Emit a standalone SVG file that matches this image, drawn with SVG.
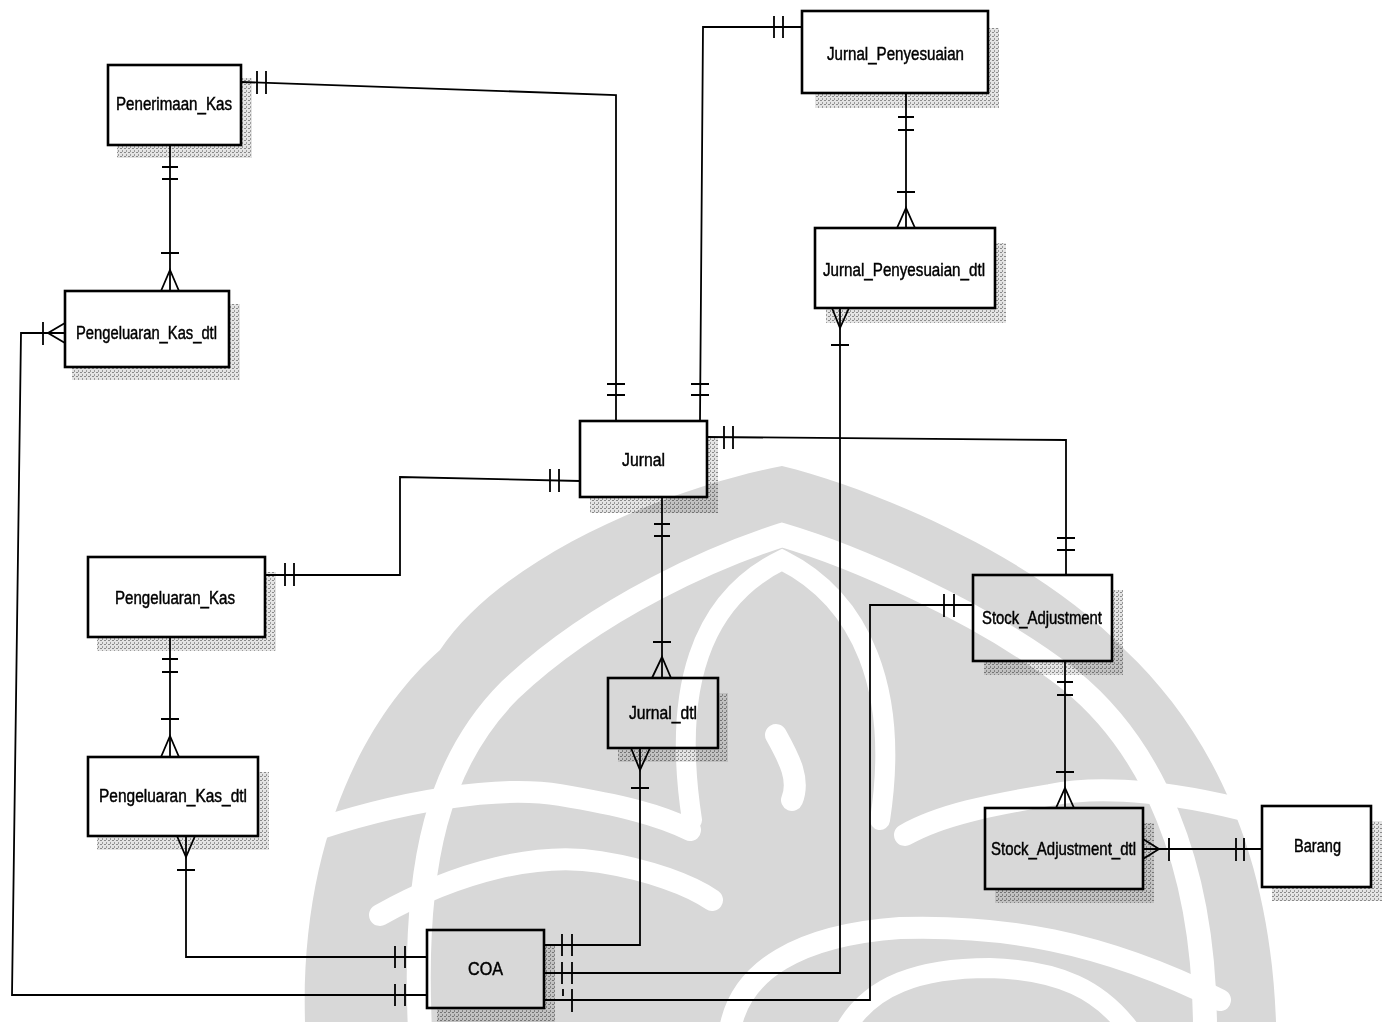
<svg xmlns="http://www.w3.org/2000/svg" width="1388" height="1022" viewBox="0 0 1388 1022">
<defs>
<pattern id="hatch" width="4" height="4" patternUnits="userSpaceOnUse">
<rect width="4" height="4" fill="#e4e4e4"/>
<rect x="0" y="0" width="2" height="1" fill="#8a8a8a"/>
<rect x="2" y="2" width="1" height="2" fill="#9a9a9a"/>
</pattern>
<style>
.box{fill:#fff;stroke:#000;stroke-width:2.6}
.sh{fill:url(#hatch)}
.ln{fill:none;stroke:#000;stroke-width:1.8;stroke-linejoin:miter}
.tk{fill:none;stroke:#000;stroke-width:1.8}
.cf{fill:none;stroke:#000;stroke-width:1.8;stroke-linejoin:miter}
.lbl{font-family:"Liberation Sans",Arial,sans-serif;font-size:18px;fill:#000;stroke:#000;stroke-width:0.45}
.wb{fill:none;stroke:#fff;stroke-linecap:round}
</style>
</defs>
<rect width="1388" height="1022" fill="#fff"/>

<g id="penerimaan_kas">
<path class="sh" d="M241,78 H252 V158 H117 V145 H241 Z"/>
<rect class="box" x="108" y="65" width="133" height="80"/>
<text class="lbl" x="116" y="110" textLength="116" lengthAdjust="spacingAndGlyphs">Penerimaan_Kas</text>
</g>
<g id="pengeluaran_kas_dtl_top">
<path class="sh" d="M229,304 H240 V380 H72 V367 H229 Z"/>
<rect class="box" x="65" y="291" width="164" height="76"/>
<text class="lbl" x="76" y="339" textLength="141" lengthAdjust="spacingAndGlyphs">Pengeluaran_Kas_dtl</text>
</g>
<g id="jurnal_penyesuaian">
<path class="sh" d="M988,28 H999 V108 H815 V93 H988 Z"/>
<rect class="box" x="802" y="11" width="186" height="82"/>
<text class="lbl" x="827" y="60" textLength="137" lengthAdjust="spacingAndGlyphs">Jurnal_Penyesuaian</text>
</g>
<g id="jurnal_penyesuaian_dtl">
<path class="sh" d="M995,243 H1006 V323 H826 V308 H995 Z"/>
<rect class="box" x="815" y="228" width="180" height="80"/>
<text class="lbl" x="823" y="276" textLength="162" lengthAdjust="spacingAndGlyphs">Jurnal_Penyesuaian_dtl</text>
</g>
<g id="jurnal">
<path class="sh" d="M707,437 H718 V513 H590 V497 H707 Z"/>
<rect class="box" x="580" y="421" width="127" height="76"/>
<text class="lbl" x="622" y="466" textLength="43" lengthAdjust="spacingAndGlyphs">Jurnal</text>
</g>
<g id="jurnal_dtl">
<path class="sh" d="M718,693 H728 V762 H618 V748 H718 Z"/>
<rect class="box" x="608" y="678" width="110" height="70"/>
<text class="lbl" x="629" y="719" textLength="68" lengthAdjust="spacingAndGlyphs">Jurnal_dtl</text>
</g>
<g id="pengeluaran_kas">
<path class="sh" d="M265,572 H276 V651 H97 V637 H265 Z"/>
<rect class="box" x="88" y="557" width="177" height="80"/>
<text class="lbl" x="115" y="604" textLength="120" lengthAdjust="spacingAndGlyphs">Pengeluaran_Kas</text>
</g>
<g id="pengeluaran_kas_dtl">
<path class="sh" d="M258,772 H269 V850 H97 V836 H258 Z"/>
<rect class="box" x="88" y="757" width="170" height="79"/>
<text class="lbl" x="99" y="802" textLength="148" lengthAdjust="spacingAndGlyphs">Pengeluaran_Kas_dtl</text>
</g>
<g id="coa">
<path class="sh" d="M544,945 H555 V1022 H437 V1008 H544 Z"/>
<rect class="box" x="427" y="930" width="117" height="78"/>
<text class="lbl" x="468" y="975" textLength="35" lengthAdjust="spacingAndGlyphs">COA</text>
</g>
<g id="stock_adjustment">
<path class="sh" d="M1112,590 H1123 V675 H984 V661 H1112 Z"/>
<rect class="box" x="973" y="575" width="139" height="86"/>
<text class="lbl" x="982" y="624" textLength="120" lengthAdjust="spacingAndGlyphs">Stock_Adjustment</text>
</g>
<g id="stock_adjustment_dtl">
<path class="sh" d="M1143,823 H1154 V903 H995 V889 H1143 Z"/>
<rect class="box" x="985" y="808" width="158" height="81"/>
<text class="lbl" x="991" y="855" textLength="145" lengthAdjust="spacingAndGlyphs">Stock_Adjustment_dtl</text>
</g>
<g id="barang">
<path class="sh" d="M1371,821 H1382 V901 H1272 V887 H1371 Z"/>
<rect class="box" x="1262" y="806" width="109" height="81"/>
<text class="lbl" x="1294" y="852" textLength="47" lengthAdjust="spacingAndGlyphs">Barang</text>
</g>

<g id="connectors">
<!-- Penerimaan_Kas - Jurnal -->
<path class="ln" d="M241,82 L616,95 L616,421"/>
<path class="tk" d="M257,71 V94 M266,71 V94 M607,384 H625 M607,395 H625"/>
<!-- Penerimaan_Kas - Pengeluaran_Kas_dtl (top) -->
<path class="ln" d="M170,145 V291"/>
<path class="tk" d="M162,167 H178 M162,179 H178 M161,253 H179"/>
<path class="cf" d="M161,291 L170,270 L179,291"/>
<!-- Pengeluaran_Kas_dtl (top) - COA -->
<path class="ln" d="M65,333 H21 L12,995 H427"/>
<path class="cf" d="M65,323 L48,333 L65,343"/>
<path class="tk" d="M43,322 V345 M395,984 V1006 M405,984 V1006"/>
<!-- Jurnal - Jurnal_Penyesuaian -->
<path class="ln" d="M700,421 L703,27 H802"/>
<path class="tk" d="M691,384 H709 M691,395 H709 M774,16 V38 M783,16 V38"/>
<!-- Jurnal_Penyesuaian - Jurnal_Penyesuaian_dtl -->
<path class="ln" d="M906,93 V228"/>
<path class="tk" d="M898,117 H914 M898,130 H914 M897,192 H915"/>
<path class="cf" d="M897,228 L906,208 L915,228"/>
<!-- Jurnal_Penyesuaian_dtl - COA -->
<path class="ln" d="M840,308 V973 H544"/>
<path class="cf" d="M832,308 L840,328 L849,308"/>
<path class="tk" d="M831,345 H849 M562,962 V984 M572,962 V984"/>
<!-- Pengeluaran_Kas - Jurnal -->
<path class="ln" d="M265,575 H400 V477 L580,481"/>
<path class="tk" d="M285,563 V586 M294,563 V586 M550,469 V492 M559,469 V492"/>
<!-- Jurnal - Stock_Adjustment -->
<path class="ln" d="M707,437 L1066,440 V575"/>
<path class="tk" d="M724,426 V449 M733,426 V449 M1057,538 H1075 M1057,550 H1075"/>
<!-- Jurnal - Jurnal_dtl -->
<path class="ln" d="M662,497 V678"/>
<path class="tk" d="M654,524 H670 M654,536 H670 M653,642 H671"/>
<path class="cf" d="M652,678 L662,657 L671,678"/>
<!-- Jurnal_dtl - COA -->
<path class="ln" d="M640,748 V945 H544"/>
<path class="cf" d="M631,748 L640,770 L650,748"/>
<path class="tk" d="M631,788 H649 M562,934 V956 M572,934 V956"/>
<!-- Pengeluaran_Kas - Pengeluaran_Kas_dtl -->
<path class="ln" d="M170,637 V757"/>
<path class="tk" d="M162,659 H178 M162,672 H178 M161,719 H179"/>
<path class="cf" d="M161,757 L170,736 L179,757"/>
<!-- Pengeluaran_Kas_dtl - COA -->
<path class="ln" d="M186,836 V957 H427"/>
<path class="cf" d="M177,836 L186,857 L195,836"/>
<path class="tk" d="M177,870 H195 M395,946 V968 M405,946 V968"/>
<!-- Stock_Adjustment - COA -->
<path class="ln" d="M973,605 H870 V1000 H544"/>
<path class="tk" d="M944,594 V617 M954,594 V617 M563,989 V996 M572,989 V1012"/>
<!-- Stock_Adjustment - Stock_Adjustment_dtl -->
<path class="ln" d="M1065,661 V808"/>
<path class="tk" d="M1057,682 H1073 M1057,695 H1073 M1056,772 H1074"/>
<path class="cf" d="M1056,808 L1065,788 L1074,808"/>
<!-- Stock_Adjustment_dtl - Barang -->
<path class="ln" d="M1143,849 H1262"/>
<path class="cf" d="M1143,839 L1159,849 L1143,859"/>
<path class="tk" d="M1169,838 V861 M1236,838 V861 M1244,838 V861"/>
</g>

<g id="watermark" style="mix-blend-mode:multiply">
<path fill="#d8d8d8" d="M305,1022 C300,850 360,720 440,650 C500,560 660,490 782,466 C880,490 1040,560 1125,650 C1210,730 1270,850 1276,1022 Z"/>
<path class="wb" stroke-width="24" d="M420,1030 C412,860 440,760 510,690 C600,605 720,555 782,535 C850,555 980,610 1070,680 C1150,745 1205,860 1205,1030"/>
<path class="wb" stroke-width="20" d="M692,820 C672,690 700,600 782,560 C862,600 900,690 880,820"/>
<path class="wb" stroke-width="22" d="M776,735 C790,760 800,780 792,800"/>
<path class="wb" stroke-width="22" d="M300,835 C400,800 500,785 560,795 C620,805 660,815 690,830"/>
<path class="wb" stroke-width="22" d="M380,915 C460,870 540,852 600,862 C650,870 690,885 712,900"/>
<path class="wb" stroke-width="22" d="M1280,820 C1180,790 1100,785 1050,795 C990,805 940,815 905,835"/>
<path class="wb" stroke-width="22" d="M730,1030 C740,970 800,935 900,928 C1000,925 1100,940 1220,1000"/>
<path class="wb" stroke-width="20" d="M845,1030 C870,985 920,968 990,968 C1060,970 1100,990 1130,1030"/>
</g>
</svg>
